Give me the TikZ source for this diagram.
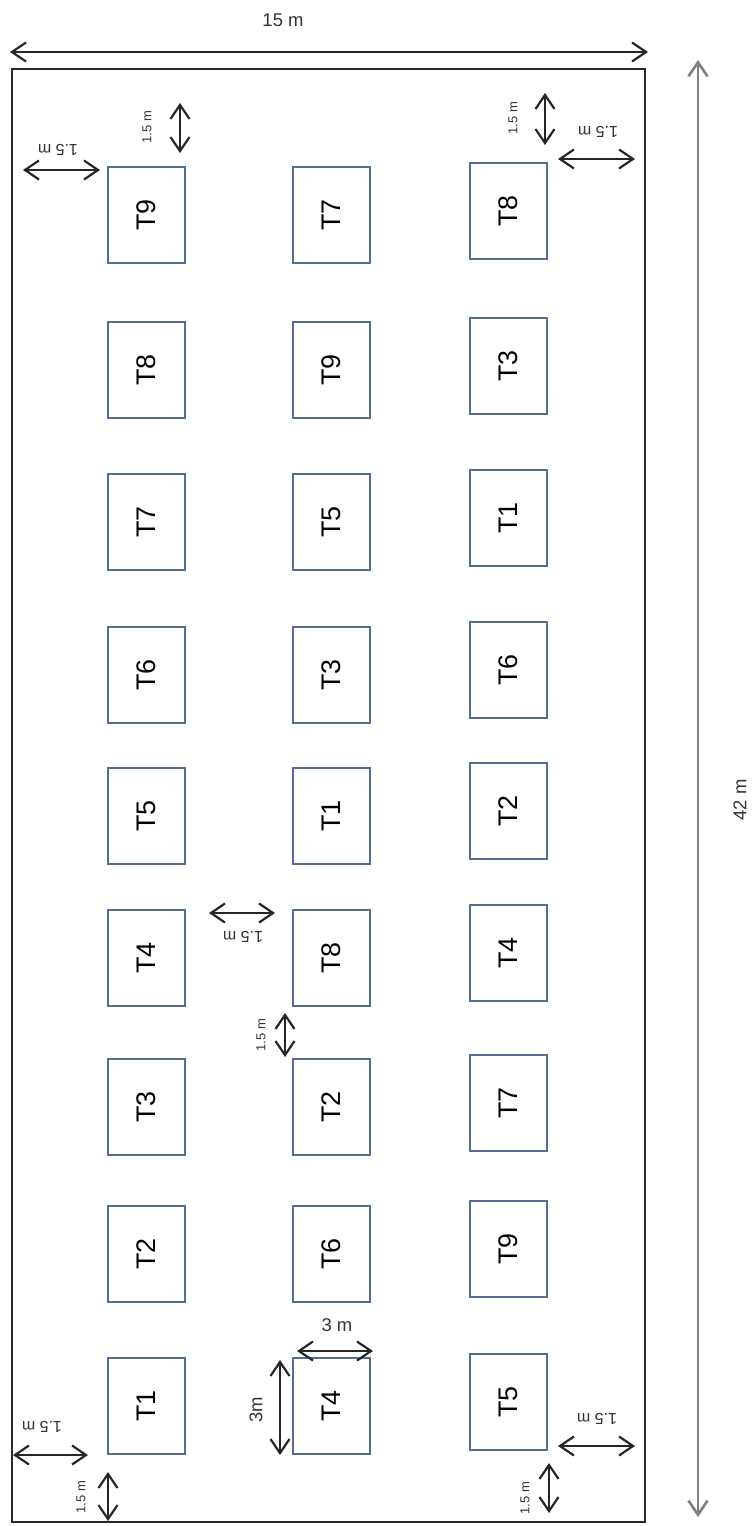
\documentclass[tikz,border=0pt]{standalone}
\usepackage{fontspec}
\setmainfont{Liberation Sans}
\usetikzlibrary{arrows.meta}
\definecolor{plotblue}{RGB}{84,110,145}
\definecolor{fieldgray}{RGB}{40,40,40}
\tikzset{
  plotbox/.style={draw=plotblue, line width=1.6pt, rotate=90, minimum width=19.2mm, minimum height=15.4mm, inner sep=0pt, font=\fontsize{15.3}{17}\selectfont},
  dimarrow/.style={draw=black!85, line width=1.25pt, {Straight Barb[length=2.8mm,width=3.8mm]}-{Straight Barb[length=2.8mm,width=3.8mm]}},
  gaplabel/.style={inner sep=0pt, text=black!80, font=\fontsize{9.1}{10}\selectfont},
  tinylabel/.style={inner sep=0pt, text=black!80, rotate=90, font=\fontsize{7.4}{8}\selectfont},
  sizelabel/.style={inner sep=0pt, text=black!80, font=\fontsize{10.5}{12}\selectfont}
}
\begin{document}
\begin{tikzpicture}[x=0.2mm, y=-0.2mm]
\useasboundingbox (0,0) rectangle (754,1526);

\draw[color=fieldgray, line width=1.6pt](12, 69) rectangle (645, 1522);

\node[plotbox] (l1) at (146.5,215) {T9};
\node[plotbox] (l2) at (146.5,370) {T8};
\node[plotbox] (l3) at (146.5,522) {T7};
\node[plotbox] (l4) at (146.5,675) {T6};
\node[plotbox] (l5) at (146.5,816) {T5};
\node[plotbox] (l6) at (146.5,958) {T4};
\node[plotbox] (l7) at (146.5,1107) {T3};
\node[plotbox] (l8) at (146.5,1254) {T2};
\node[plotbox] (l9) at (146.5,1406) {T1};

\node[plotbox] (m1) at (331.5,215) {T7};
\node[plotbox] (m2) at (331.5,370) {T9};
\node[plotbox] (m3) at (331.5,522) {T5};
\node[plotbox] (m4) at (331.5,675) {T3};
\node[plotbox] (m5) at (331.5,816) {T1};
\node[plotbox] (m6) at (331.5,958) {T8};
\node[plotbox] (m7) at (331.5,1107) {T2};
\node[plotbox] (m8) at (331.5,1254) {T6};
\node[plotbox] (m9) at (331.5,1406) {T4};

\node[plotbox] (r1) at (508.5,211) {T8};
\node[plotbox] (r2) at (508.5,366) {T3};
\node[plotbox] (r3) at (508.5,518) {T1};
\node[plotbox] (r4) at (508.5,670) {T6};
\node[plotbox] (r5) at (508.5,811) {T2};
\node[plotbox] (r6) at (508.5,953) {T4};
\node[plotbox] (r7) at (508.5,1103) {T7};
\node[plotbox] (r8) at (508.5,1249) {T9};
\node[plotbox] (r9) at (508.5,1402) {T5};

\coordinate (w15) at (10,52);
\coordinate (e15) at (648,52);
\draw[dimarrow](w15) -- (e15);
\node[sizelabel] (t15) at (283,20) {15 m};

\coordinate (n42) at (698,60);
\coordinate (s42) at (698,1517);
\draw[dimarrow, draw=black!50, line width=1.5pt](n42) -- (s42);
\node[sizelabel, rotate=90] (t42) at (740,800) {42 m};

\coordinate (tlw) at (23,170);
\coordinate (tle) at (100,170);
\draw[dimarrow](tlw) -- (tle);
\node[gaplabel, rotate=180] (tlh) at (58,150) {1.5 m};
\coordinate (tln) at (180,103);
\coordinate (tls) at (180,153);
\draw[dimarrow](tln) -- (tls);
\node[tinylabel] (tlv) at (147,127) {1.5 m};

\coordinate (trn) at (545,93);
\coordinate (trs) at (545,145);
\draw[dimarrow](trn) -- (trs);
\node[tinylabel] (trv) at (513,118) {1.5 m};
\coordinate (trw) at (558,159);
\coordinate (tre) at (635,159);
\draw[dimarrow](trw) -- (tre);
\node[gaplabel, rotate=180] (trh) at (598,132) {1.5 m};

\coordinate (mdw) at (209,913);
\coordinate (mde) at (275,913);
\draw[dimarrow](mdw) -- (mde);
\node[gaplabel, rotate=180] (mdh) at (243,937) {1.5 m};
\coordinate (mdn) at (285,1013);
\coordinate (mds) at (285,1057);
\draw[dimarrow](mdn) -- (mds);
\node[tinylabel] (mdv) at (261,1035) {1.5 m};

\coordinate (tw) at (297,1351);
\coordinate (te) at (373,1351);
\draw[dimarrow](tw) -- (te);
\node[sizelabel] (th) at (337,1325) {3 m};
\coordinate (tn) at (280,1360);
\coordinate (ts) at (280,1455);
\draw[dimarrow](tn) -- (ts);
\node[sizelabel, rotate=90] (tv) at (256,1410) {3m};

\coordinate (blw) at (13,1455);
\coordinate (ble) at (88,1455);
\draw[dimarrow](blw) -- (ble);
\node[gaplabel, rotate=180] (blh) at (42,1427) {1.5 m};
\coordinate (bln) at (108,1472);
\coordinate (bls) at (108,1521);
\draw[dimarrow](bln) -- (bls);
\node[tinylabel] (blv) at (81,1497) {1.5 m};

\coordinate (brw) at (558,1446);
\coordinate (bre) at (635,1446);
\draw[dimarrow](brw) -- (bre);
\node[gaplabel, rotate=180] (brh) at (597,1419) {1.5 m};
\coordinate (brn) at (549,1463);
\coordinate (brs) at (549,1513);
\draw[dimarrow](brn) -- (brs);
\node[tinylabel] (brv) at (525,1498) {1.5 m};

\end{tikzpicture}
\end{document}
